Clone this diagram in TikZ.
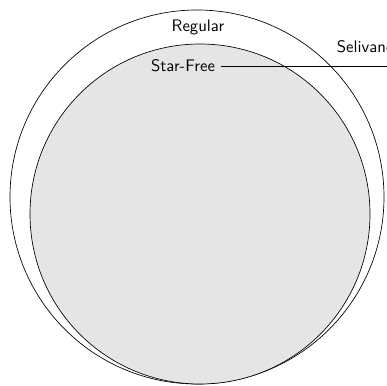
\documentclass[tikz,border=0pt]{standalone}
\usepackage{tikz}
\usetikzlibrary{positioning}

\tikzset{
  lbl/.style={font=\sffamily},
  lang/.style={draw, black}
}

\begin{document}
\begin{tikzpicture}[x=0.021cm, y=-0.021cm]
    \useasboundingbox (0,0) rectangle (387,385);
    \draw[lang] (197,197) circle (187);
    \draw[lang, fill=black!10] (200,214) circle (170);
    \node[lbl] (regular) at (198,27) {Regular};
    \node[lbl] (starfree) at (183,66) {Star-Free};
    \node[lbl, anchor=west] (selivanov) at (331,47) {Selivanov};
    \coordinate (selpt) at (420,66);
    \draw (starfree) -- (selpt);
  \end{tikzpicture}
\end{document}
